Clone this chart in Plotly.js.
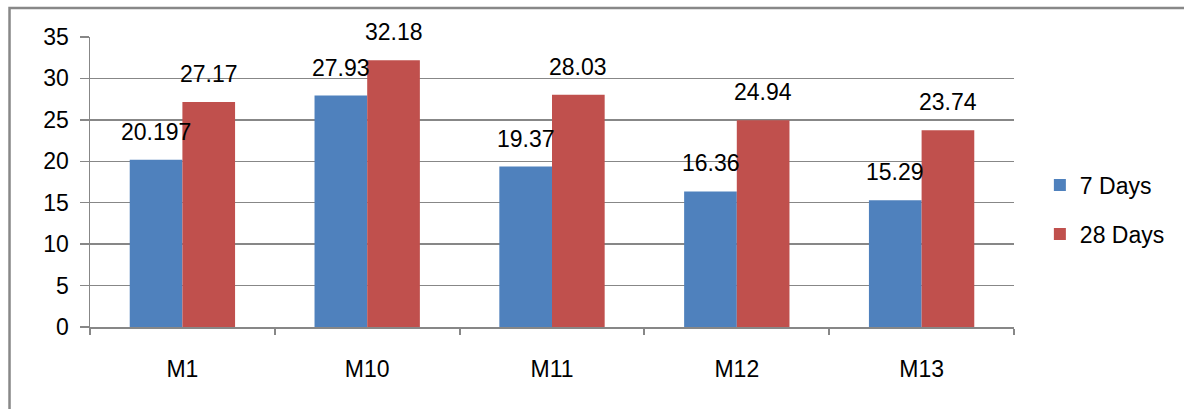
<!DOCTYPE html>
<html>
<head>
<meta charset="utf-8">
<script src="https://cdn.plot.ly/plotly-3.0.1.min.js"></script>
<style>
  html, body { margin: 0; padding: 0; background: #ffffff; }
  #chart { width: 1184px; height: 409px; }
</style>
</head>
<body>
<div id="chart"></div>
<script>
const categories = ["M1", "M10", "M11", "M12", "M13"];
const days7 = [20.197, 27.93, 19.37, 16.36, 15.29];
const days28 = [27.17, 32.18, 28.03, 24.94, 23.74];
const seriesNames = ["7 Days", "28 Days"];
const seriesColors = ["#4F81BD", "#C0504D"];

const FONT = "Liberation Sans, Arial, sans-serif";
const FS = 23;
const GRID = "#878787";

const traces = [days7, days28].map((vals, k) => ({
  type: "bar",
  name: seriesNames[k],
  x: categories,
  y: vals,
  marker: { color: seriesColors[k], line: { width: 0 } },
  legendgroup: "g" + k,
  hoverinfo: "skip"
}));

const halfBar = 26.3;
const annotations = [];
[days7, days28].forEach((vals, k) => {
  vals.forEach((v, i) => {
    annotations.push({
      x: categories[i], y: v, xref: "x", yref: "y",
      xshift: k === 0 ? -halfBar : halfBar, yshift: 13,
      yanchor: "bottom", xanchor: "center",
      showarrow: false, text: String(v),
      font: { family: FONT, size: FS, color: "#000" }
    });
  });
});

const layout = {
  width: 1184, height: 409,
  margin: { l: 90, r: 170, t: 37, b: 82 },
  paper_bgcolor: "#ffffff", plot_bgcolor: "#ffffff",
  barmode: "group", bargap: 0.43, bargroupgap: 0,
  font: { family: FONT, size: FS, color: "#000" },
  xaxis: {
    type: "category",
    showline: true, linecolor: GRID, linewidth: 2,
    ticks: "outside", tickson: "boundaries", ticklen: 6, tickcolor: GRID, tickwidth: 2,
    ticklabelstandoff: 20,
    showgrid: false, zeroline: false,
    tickfont: { family: FONT, size: FS, color: "#000" }
  },
  yaxis: {
    range: [0, 35], dtick: 5, tick0: 0,
    showline: true, linecolor: GRID, linewidth: 1.5,
    ticks: "outside", ticklen: 9, tickcolor: GRID, tickwidth: 1.5,
    ticklabelstandoff: 6,
    showgrid: true, gridcolor: GRID, gridwidth: 1.5,
    zeroline: false,
    tickfont: { family: FONT, size: FS, color: "#000" }
  },
  showlegend: true,
  legend: {
    x: 1.028, y: 0.405, xanchor: "left", yanchor: "middle",
    traceorder: "grouped", tracegroupgap: 16,
    font: { family: FONT, size: FS, color: "#000" },
    bgcolor: "rgba(0,0,0,0)"
  },
  annotations: annotations,
  shapes: [{
    type: "rect", xref: "paper", yref: "paper",
    x0: -0.0871, x1: 1.3, y0: -0.5, y1: 1.1,
    line: { color: "#888888", width: 2.5 },
    fillcolor: "rgba(0,0,0,0)", layer: "below"
  }]
};

Plotly.newPlot("chart", traces, layout, { displayModeBar: false, staticPlot: true });
</script>
</body>
</html>
